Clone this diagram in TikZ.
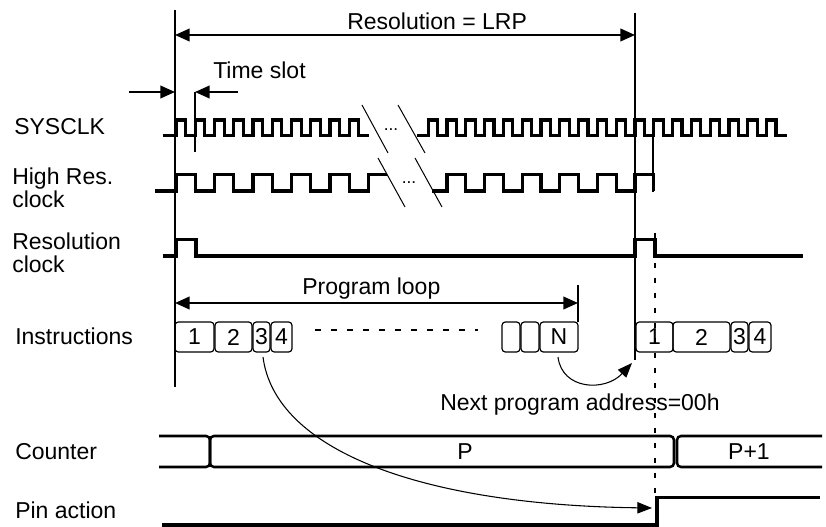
\documentclass[tikz,border=0pt]{standalone}
\usepackage{fontspec}
\setmainfont{Liberation Sans}
\usetikzlibrary{arrows.meta}
\begin{document}
\begin{tikzpicture}[x=0.75pt,y=-0.75pt,
  every node/.style={font=\fontsize{17.25pt}{17.25pt}\selectfont, inner sep=0pt},
  lbl/.style={anchor=base west},
  wavestyle/.style={line width=2.3pt, line join=miter},
  markline/.style={line width=1.5pt},
  thinline/.style={line width=0.75pt},
  dotline/.style={line width=2.2pt, dash pattern=on 3.75pt off 7.5pt},
  busline/.style={line width=1.9pt, rounded corners=3pt},
  ibox/.style={draw, line width=0.9pt, rounded corners=2.5pt, minimum height=22.5pt, minimum width=#1},
  dimarrow/.style={line width=1.5pt, -{Triangle[length=11pt,width=9.5pt]}},
  dimboth/.style={line width=1.5pt, {Triangle[length=11pt,width=9.5pt]}-{Triangle[length=11pt,width=9.5pt]}},
  curvearrow/.style={line width=0.8pt, -{Triangle[length=11pt,width=8.5pt]}},
  dotsty/.style={font=\fontsize{13pt}{13pt}\selectfont, anchor=base}
]
\useasboundingbox (0,0) rectangle (826,527);

% ---- labels ----
\node[lbl] (lsys) at (14,135) {SYSCLK};
\node[lbl] (lhr1) at (12,185) {High Res.};
\node[lbl] (lhr2) at (12,208) {clock};
\node[lbl] (lrc1) at (12,250) {Resolution};
\node[lbl] (lrc2) at (12,273) {clock};
\node[lbl] (lins) at (15,345) {Instructions};
\node[lbl] (lcnt) at (15,460) {Counter};
\node[lbl] (lpin) at (15,519) {Pin action};
\node[lbl] (lres) at (347,30) {Resolution = LRP};
\node[lbl] (lts) at (213,79) {Time slot};
\node[lbl] (lpl) at (302,295) {Program loop};
\node[lbl] (lnext) at (440,411) {Next program address=00h};

% ---- marker lines ----
\coordinate (ltop) at (175,10); \coordinate (lbot) at (175,387);
\coordinate (rtop) at (635,13); \coordinate (rbot) at (635,360);
\draw[markline] (ltop) -- (lbot);
\draw[markline] (rtop) -- (rbot);
\coordinate (m2top) at (653,136); \coordinate (m2bot) at (653,192);
\draw[markline] (m2top) -- (m2bot);

% ---- resolution arrow ----
\coordinate (resL) at (175,35); \coordinate (resR) at (635,35);
\draw[dimboth] (resL) -- (resR);

% ---- time slot ----
\coordinate (tsA) at (129,92); \coordinate (tsB) at (175,92);
\coordinate (tsC) at (238,92); \coordinate (tsD) at (195,92);
\coordinate (tsE) at (195,152);
\draw[dimarrow] (tsA) -- (tsB);
\draw[dimarrow] (tsC) -- (tsD);
\draw[markline] (tsD) -- (tsE);

% ---- SYSCLK ----
\draw[wavestyle] (163,135.5) -- (176,135.5)
  \foreach \k in {1,...,10} { -- ++(0,-15.5) -- ++(9.625,0) -- ++(0,15.5) -- ++(9.625,0) };
\draw[wavestyle] (417,135.5) -- (428.2,135.5)
  \foreach \k in {1,...,19} { -- ++(0,-15.5) -- ++(9.4,0) -- ++(0,15.5) -- ++(9.4,0) } -- (787,135.5);

% ---- High Res clock ----
\draw[wavestyle] (155,191) -- (176,191)
  \foreach \k in {1,...,5} { -- ++(0,-16.5) -- ++(19.25,0) -- ++(0,16.5) -- ++(19.25,0) }
  -- ++(0,-16.5) -- (387,174.5);
\draw[wavestyle] (432,191) -- (447,191)
  \foreach \k in {1,...,5} { -- ++(0,-16.5) -- ++(18.8,0) -- ++(0,16.5) -- ++(18.8,0) }
  -- ++(0,-16.5) -- ++(18.8,0) -- ++(0,16.5);

% ---- break slashes and dots ----
\draw[thinline] (362,105) -- (388,153);
\draw[thinline] (398,105) -- (425,153);
\draw[thinline] (378,158) -- (405,207);
\draw[thinline] (415,158) -- (442,207);
\node[dotsty] (dots1) at (391,131) {...};
\node[dotsty] (dots2) at (409,184) {...};

% ---- Resolution clock ----
\draw[wavestyle] (163,256) -- (176,256) -- (176,239.5) -- (196,239.5) -- (196,256)
  -- (635,256) -- (635,239.5) -- (655,239.5) -- (655,256) -- (803,256);

% ---- program loop ----
\coordinate (plL) at (175,303); \coordinate (plR) at (578,303);
\draw[dimboth] (plL) -- (plR);
\coordinate (plT) at (578,285); \coordinate (plB) at (578,322);
\draw[markline] (plT) -- (plB);

% ---- instruction boxes ----
\node[ibox=29.25pt] (i1) at (194.5,337) {1};
\node[ibox=27.75pt] (i2) at (233.5,337) {2};
\node[ibox=12.75pt] (i3) at (261.5,337) {3};
\node[ibox=15.75pt] (i4) at (281.5,337) {4};
\node[ibox=13.5pt] (ia) at (511,337) {};
\node[ibox=13.5pt] (ib) at (530,337) {};
\node[ibox=28.5pt] (iN) at (559,337) {N};
\node[ibox=27.75pt] (j1) at (654.5,337) {1};
\node[ibox=42.75pt] (j2) at (701.5,337) {2};
\node[ibox=12.75pt] (j3) at (739.5,337) {3};
\node[ibox=16.5pt] (j4) at (760,337) {4};
\coordinate (dsA) at (315,330); \coordinate (dsB) at (478,330);
\draw[line width=1pt, dash pattern=on 4.5pt off 7.5pt] (dsA) -- (dsB);

% ---- counter ----
\draw[busline] (159,436) -| (210,467) -- (159,467);
\draw[busline] (210,436) rectangle (674,467);
\draw[busline] (822,436) -| (677,467) -- (822,467);
\node (ctrP) at (465,451.5) {P};
\node (ctrP1) at (749,451.5) {P+1};

% ---- pin action ----
\draw[wavestyle] (162,525) -- (657,525) -- (657,497.5) -- (820,497.5);

% ---- dotted line ----
\coordinate (dtA) at (655,233); \coordinate (dtB) at (655,497);
\draw[dotline] (dtA) -- (dtB);

% ---- curved arrows ----
\coordinate (cNs) at (558,357); \coordinate (cNe) at (632,363);
\draw[curvearrow] (cNs) .. controls (562,390) and (605,392) .. (cNe);
\coordinate (c3s) at (263,357); \coordinate (pinTip) at (652,508);
\draw[curvearrow] (c3s) .. controls (275,450) and (420,505) .. (pinTip);
\end{tikzpicture}
\end{document}
